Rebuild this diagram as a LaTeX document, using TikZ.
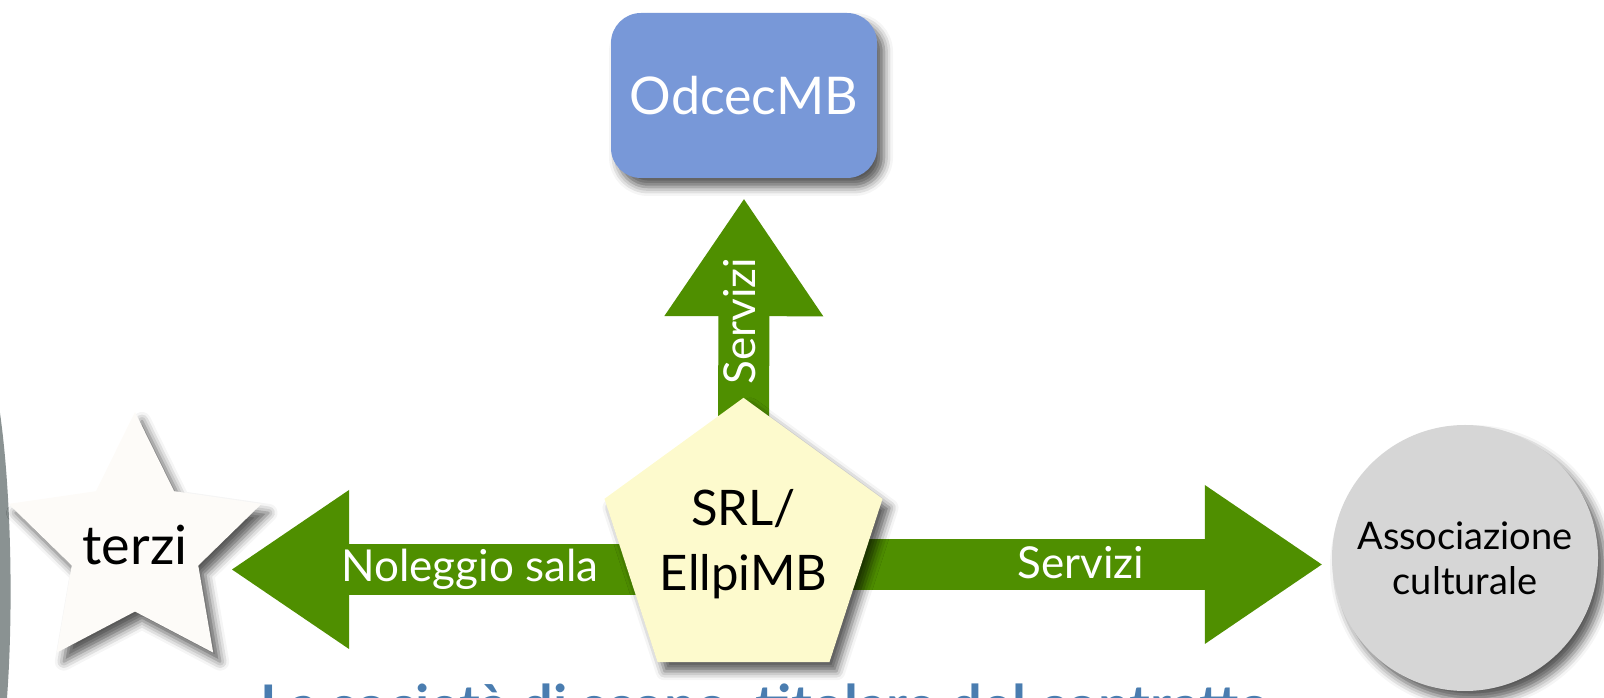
\documentclass[tikz,border=0pt]{standalone}
\usepackage{fontspec}
\setmainfont{Lato}
\usetikzlibrary{shapes.geometric,arrows.meta,shadows.blur}

\definecolor{odcecblue}{RGB}{120,152,216}
\definecolor{flowgreen}{RGB}{79,143,0}
\definecolor{srlyellow}{RGB}{253,250,205}
\definecolor{terziwhite}{RGB}{253,251,248}
\definecolor{assocgrey}{RGB}{214,214,214}
\definecolor{titleblue}{RGB}{74,125,176}
\definecolor{sidegrey}{RGB}{138,146,146}

\pgfdeclarelayer{back}
\pgfsetlayers{back,main}

\tikzset{
  shadowed/.style={blur shadow={shadow xshift=7pt,shadow yshift=-9pt,shadow blur radius=9pt,shadow opacity=65}},
  bigarrow/.style={flowgreen,line width=51pt,-{Triangle[length=117pt,width=159pt,line width=0pt]}},
  arrowlabel/.style={text=white,font=\fontsize{44}{50}\selectfont,anchor=base,inner sep=0pt}
}

\begin{document}
\begin{tikzpicture}[x=1pt,y=1pt]
\useasboundingbox (0,0) rectangle (1604,698);

% Draw the grey edge on the left
\fill[sidegrey] (0,285) .. controls (12,200) and (13,80) .. (7,0) -- (0,0) -- cycle;

% Draw the nodes
\node[shadowed,fill=odcecblue,rounded corners=30pt,minimum width=266pt,minimum height=165pt,text=white,font=\fontsize{52}{60}\selectfont] (odcec) at (744,602.5) {OdcecMB};
\node[shadowed,regular polygon,regular polygon sides=5,minimum size=266pt,inner sep=0pt,fill=srlyellow,align=center,font=\fontsize{49}{65}\selectfont] (srl) at (743.5,154) {SRL/\\EllpiMB};
\node[shadowed,star,star points=5,star point ratio=2,minimum size=266pt,inner sep=-12pt,fill=terziwhite,font=\fontsize{54}{60}\selectfont] (terzi) at (135,153) {terzi};
\node[shadowed,circle,minimum size=266pt,inner sep=0pt,fill=assocgrey,align=center,font=\fontsize{38}{45}\selectfont] (assoc) at (1465,140) {Associazione\\culturale};

% Draw the arrows behind the nodes
\begin{pgfonlayer}{back}
\draw[bigarrow,shorten >=21pt] (srl.center) -- (odcec.south);
\draw[bigarrow,shorten >=97pt] ([yshift=-25.5pt]srl.center) -- ([yshift=-24.5pt]terzi.center);
\draw[bigarrow,shorten >=10pt] ([yshift=-20.5pt]srl.center) -- ([yshift=-6.5pt]assoc.west);
\end{pgfonlayer}

% Draw the labels
\node[arrowlabel] (nolab) at (470,116) {Noleggio sala};
\node[arrowlabel] (servlab) at (1081,119) {Servizi};
\node[arrowlabel,rotate=90] (uplab) at (755,377) {Servizi};

% Draw the title
\node[anchor=base,text=titleblue,font=\bfseries\fontsize{56}{64}\selectfont] (title) at (765,-28) {La società di scopo, titolare del contratto};

\end{tikzpicture}
\end{document}
